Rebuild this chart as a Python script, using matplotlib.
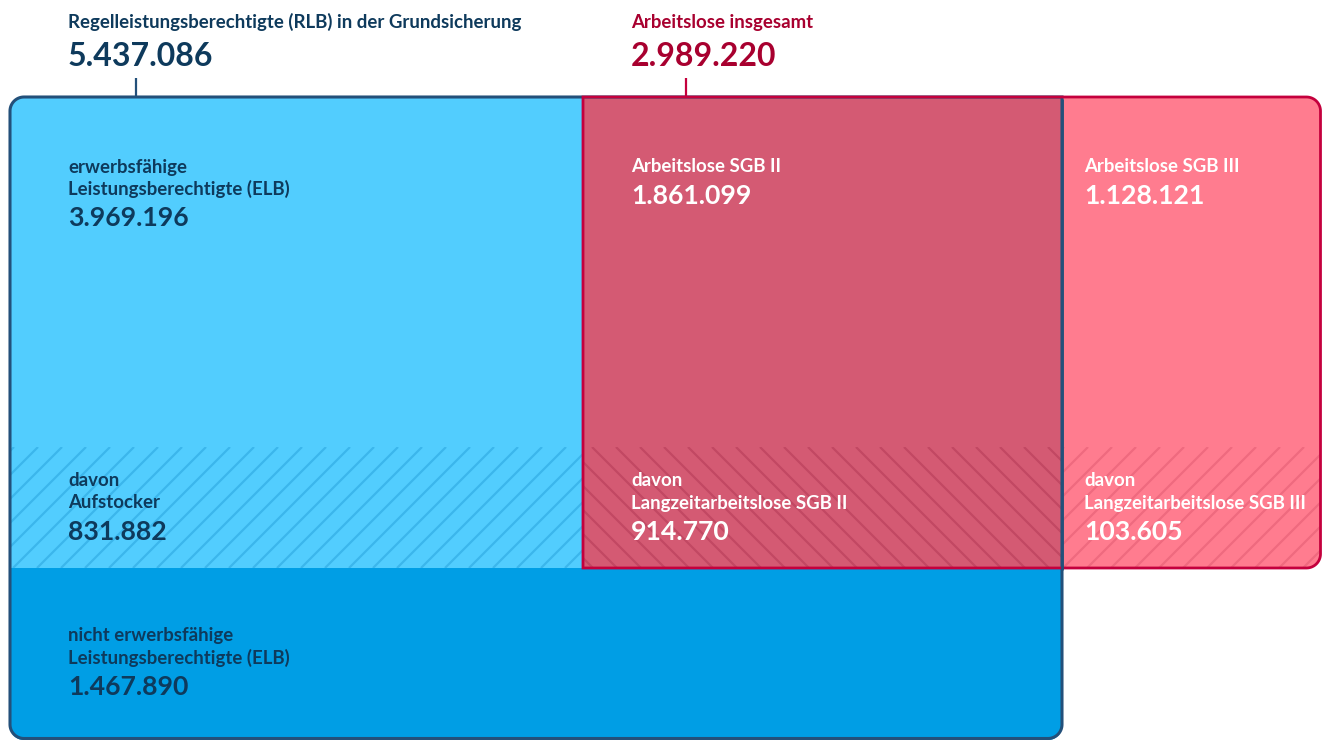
import numpy as np
import matplotlib
matplotlib.use("Agg")
import matplotlib.pyplot as plt
from matplotlib.path import Path
from matplotlib.patches import PathPatch
from matplotlib.collections import LineCollection

# ---------------- data ----------------
header_labels = ["Regelleistungsberechtigte (RLB) in der Grundsicherung", "Arbeitslose insgesamt"]
header_values = [5437086, 2989220]

box_labels = [
    "erwerbsfähige\nLeistungsberechtigte (ELB)",
    "nicht erwerbsfähige\nLeistungsberechtigte (ELB)",
    "Arbeitslose SGB II",
    "Arbeitslose SGB III",
    "davon\nAufstocker",
    "davon\nLangzeitarbeitslose SGB II",
    "davon\nLangzeitarbeitslose SGB III",
]
box_values = [3969196, 1467890, 1861099, 1128121, 831882, 914770, 103605]

def fmt(v):
    return f"{v:,}".replace(",", ".")

# ---------------- style / layout (pixel space) ----------------
W, H = 1322, 740
NAVY_TXT = "#0e3a5c"
NAVY_LINE = "#23507a"
RED_TXT = "#a8002f"
RED_LINE = "#c4003d"
LIGHT_BLUE = "#52cdfe"
DARK_BLUE = "#009ee5"
MAUVE = "#d45a73"
PINK = "#ff7c8f"
HATCH_BLUE = "#3bb6ec"
HATCH_MAUVE = "#c24863"
HATCH_PINK = "#ef6a7f"
FONT = "Lato"

X0, XA, XB, X1 = 10, 583, 1062, 1322
Y0, YH, YM, Y1 = 97, 447, 568, 740
R = 14

fig = plt.figure(figsize=(W / 100, H / 100), dpi=100)
ax = fig.add_axes([0, 0, 1, 1])
ax.set_xlim(0, W)
ax.set_ylim(H, 0)
ax.axis("off")


def rpath(x0, y0, x1, y1, tl=0, tr=0, br=0, bl=0, n=16):
    pts = []
    def arc(cx, cy, r, a0, a1):
        for a in np.linspace(a0, a1, n):
            pts.append((cx + r * np.cos(a), cy + r * np.sin(a)))
    if tl: arc(x0 + tl, y0 + tl, tl, np.pi, 1.5 * np.pi)
    else: pts.append((x0, y0))
    if tr: arc(x1 - tr, y0 + tr, tr, 1.5 * np.pi, 2 * np.pi)
    else: pts.append((x1, y0))
    if br: arc(x1 - br, y1 - br, br, 0, 0.5 * np.pi)
    else: pts.append((x1, y1))
    if bl: arc(x0 + bl, y1 - bl, bl, 0.5 * np.pi, np.pi)
    else: pts.append((x0, y1))
    pts.append(pts[0])
    codes = [Path.MOVETO] + [Path.LINETO] * (len(pts) - 2) + [Path.CLOSEPOLY]
    return Path(pts, codes)


def hatch(clip_patch, x0, y0, x1, y1, color, direction, step=24, phase=0, lw=1.6):
    h = y1 - y0
    segs = []
    start = x0 - h - step + (phase % step)
    for c in np.arange(start, x1 + h + step, step):
        if direction == "/":
            segs.append([(c, y1), (c + h, y0)])
        else:
            segs.append([(c, y0), (c + h, y1)])
    lc = LineCollection(segs, colors=color, linewidths=lw, zorder=3)
    ax.add_collection(lc)
    lc.set_clip_path(clip_patch)


# blue block
blue_path = rpath(X0, Y0, XB, Y1, tl=R, bl=R, br=R)
blue = PathPatch(blue_path, facecolor=LIGHT_BLUE, edgecolor="none", zorder=1)
ax.add_patch(blue)
dark = PathPatch(rpath(X0, YM, XB, Y1, bl=R, br=R), facecolor=DARK_BLUE, edgecolor="none", zorder=2)
ax.add_patch(dark)
hb = PathPatch(rpath(X0, YH, XA, YM), facecolor="none", edgecolor="none")
ax.add_patch(hb)
hatch(hb, X0, YH, XA, YM, HATCH_BLUE, "/", phase=4)

# red block
mauve = PathPatch(rpath(XA, Y0, XB, YM), facecolor=MAUVE, edgecolor="none", zorder=2)
ax.add_patch(mauve)
pink = PathPatch(rpath(XB, Y0, X1 - 1.5, YM, tr=R, br=R), facecolor=PINK, edgecolor="none", zorder=2)
ax.add_patch(pink)
hm = PathPatch(rpath(XA, YH, XB, YM), facecolor="none", edgecolor="none")
ax.add_patch(hm)
hatch(hm, XA, YH, XB, YM, HATCH_MAUVE, "\\", phase=10)
hp = PathPatch(rpath(XB, YH, X1 - 1.5, YM, br=R), facecolor="none", edgecolor="none")
ax.add_patch(hp)
hatch(hp, XB, YH, X1, YM, HATCH_PINK, "/", phase=2)

# outlines
ax.add_patch(PathPatch(rpath(X0, Y0, XB, Y1 - 1.5, tl=R, bl=R, br=R), facecolor="none",
                       edgecolor=NAVY_LINE, lw=2.2, zorder=5))
ax.add_patch(PathPatch(rpath(XA, Y0, X1 - 1.5, YM, tr=R, br=R), facecolor="none",
                       edgecolor=RED_LINE, lw=2.0, zorder=6))
ax.plot([XB, XB], [Y0 + 1.5, YM + 1.5], color=NAVY_LINE, lw=2.0, zorder=7, solid_capstyle="butt")

# connectors
ax.plot([136, 136], [78, Y0], color=NAVY_LINE, lw=1.6, zorder=7, solid_capstyle="butt")
ax.plot([686, 686], [78, Y0], color=RED_LINE, lw=1.6, zorder=7, solid_capstyle="butt")

LABEL_FS = 13.4
NUM_FS = 19.2
HEAD_NUM_FS = 23


def txt(x, y, s, size, color):
    ax.text(x, y, s, fontsize=size, color=color, fontfamily=FONT, fontweight="bold",
            va="baseline", ha="left", zorder=10)


# headers
txt(68, 28, header_labels[0], LABEL_FS, NAVY_TXT)
txt(68, 66, fmt(header_values[0]), HEAD_NUM_FS, NAVY_TXT)
txt(631, 28, header_labels[1], LABEL_FS, RED_TXT)
txt(631, 66, fmt(header_values[1]), HEAD_NUM_FS, RED_TXT)

# boxes: (x, first-baseline, color)
LINE_H = 22.5
box_pos = [
    (68, 172.5, NAVY_TXT),
    (68, 641.5, NAVY_TXT),
    (631, 172.5, "white"),
    (1084, 172.5, "white"),
    (68, 486, NAVY_TXT),
    (631, 486, "white"),
    (1084, 486, "white"),
]
for lab, val, (x, yb, col) in zip(box_labels, box_values, box_pos):
    lines = lab.split("\n")
    for i, ln in enumerate(lines):
        txt(x, yb + i * LINE_H, ln, LABEL_FS, col)
    txt(x, yb + (len(lines) - 1) * LINE_H + 31, fmt(val), NUM_FS, col)

fig.savefig("out.png", dpi=100)
